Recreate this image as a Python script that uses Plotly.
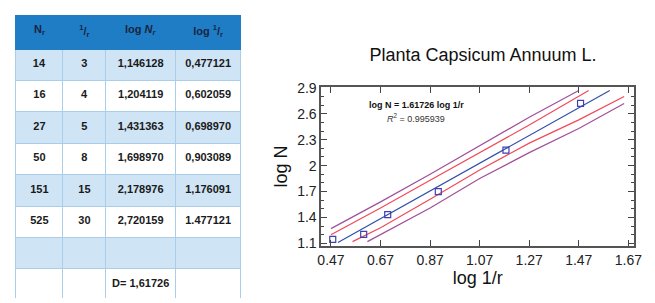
import plotly.graph_objects as go

# ---- table data ----
hdr = ["N<sub>r</sub>", "<sup>1</sup>/<sub>r</sub>", "log <i>N<sub>r</sub></i>", "log <sup>1</sup>/<sub>r</sub>"]
col_nr = ["14", "16", "27", "50", "151", "525", "", ""]
col_inv_r = ["3", "4", "5", "8", "15", "30", "", ""]
col_log_nr = ["1,146128", "1,204119", "1,431363", "1,698970", "2,178976", "2,720159", "", "D=\u00a01,61726"]
col_log_inv_r = ["0,477121", "0,602059", "0,698970", "0,903089", "1,176091", "1.477121", "", ""]

# ---- chart data ----
log_inv_r = [0.477121, 0.602059, 0.698970, 0.903089, 1.176091, 1.477121]
log_n = [1.146128, 1.204119, 1.431363, 1.698970, 2.178976, 2.720159]

fit_x = [0.498, 1.595]
fit_y = [1.11, 2.87]
conf_up_x = [0.47, 0.67, 0.87, 1.07, 1.27, 1.51]
conf_up_y = [1.20, 1.51, 1.83, 2.15, 2.47, 2.87]
conf_lo_x = [0.557, 0.67, 0.87, 1.07, 1.27, 1.47, 1.653]
conf_lo_y = [1.12, 1.28, 1.61, 1.95, 2.26, 2.53, 2.80]
pred_up_x = [0.47, 0.67, 0.87, 1.07, 1.27, 1.47]
pred_up_y = [1.27, 1.58, 1.90, 2.23, 2.56, 2.87]
pred_lo_x = [0.617, 0.87, 1.07, 1.27, 1.47, 1.653]
pred_lo_y = [1.12, 1.51, 1.85, 2.15, 2.43, 2.72]

x_ticks = [0.47, 0.67, 0.87, 1.07, 1.27, 1.47, 1.67]
y_ticks = [1.1, 1.4, 1.7, 2.0, 2.3, 2.6, 2.9]
y_tick_text = ["1.1", "1.4", "1.7", "2", "2.3", "2.6", "2.9"]

# The page body has an 8px margin, so the figure is sized to end at the window edge.
W, H = 647, 295
OFF = 8


def px(v):
    return (v - OFF) / W


def py(v):
    return 1 - (v - OFF) / H


LB = "#cfe4f5"
fills = [[LB, "white", LB, "white", LB, "white", LB, "white"]] * 4
bold = lambda col: [f"<b>{v}</b>" if v else "" for v in col]

fig = go.Figure()
fig.add_trace(go.Table(
    domain=dict(x=[px(12), px(242)], y=[0, 1]),
    columnwidth=[48, 44, 71, 67],
    header=dict(values=[f"<b>{h}</b>" for h in hdr], fill_color="#1f7dc6", align="center",
                font=dict(family="Liberation Sans, Arial", size=11, color="#1a2540"),
                line=dict(color="#1f7dc6", width=1), height=34),
    cells=dict(values=[bold(col_nr), bold(col_inv_r), bold(col_log_nr), bold(col_log_inv_r)],
               fill_color=fills, align="center",
               font=dict(family="Liberation Sans, Arial", size=11, color="#1a1a1a"),
               line=dict(color="#aacde9", width=1), height=31.4),
))

purple = "#a0509a"
red = "#f04a5a"
blue = "#3050a8"
for xs, ys, c in [(pred_up_x, pred_up_y, purple), (conf_up_x, conf_up_y, red),
                  (conf_lo_x, conf_lo_y, red), (pred_lo_x, pred_lo_y, purple)]:
    fig.add_trace(go.Scatter(x=xs, y=ys, mode="lines", line=dict(color=c, width=1.2),
                             showlegend=False, hoverinfo="skip"))
fig.add_trace(go.Scatter(x=fit_x, y=fit_y, mode="lines", line=dict(color=blue, width=1.2),
                         showlegend=False))
fig.add_trace(go.Scatter(x=log_inv_r, y=log_n, mode="markers",
                         marker=dict(symbol="square-open", size=6, color="#4040b0",
                                     line=dict(width=1.2)),
                         showlegend=False))

axis_font = dict(family="Liberation Sans, Arial", size=14, color="#222")
title_font = dict(family="Liberation Sans, Arial", size=18, color="#111")
fig.update_layout(
    width=W, height=H, autosize=False,
    margin=dict(l=0, r=0, t=0, b=0),
    paper_bgcolor="white", plot_bgcolor="white",
    title=dict(text="Planta Capsicum Annuum L.", x=px(483), y=py(55),
               xanchor="center", yanchor="middle", font=title_font),
    xaxis=dict(domain=[px(323), px(642)], range=[0.4304, 1.6938],
               tickvals=x_ticks, ticktext=[f"{v:.2f}" for v in x_ticks],
               ticks="inside", ticklen=6, tickcolor="#444", showline=True,
               linecolor="#555", linewidth=1.5, mirror="allticks", showgrid=False,
               zeroline=False, tickfont=axis_font,
               title=dict(text="log 1/r", font=title_font, standoff=4)),
    yaxis=dict(domain=[py(249), py(83)], range=[1.0667, 2.911],
               tickvals=y_ticks, ticktext=y_tick_text,
               ticks="inside", ticklen=6, tickcolor="#444", showline=True,
               linecolor="#555", linewidth=1.5, mirror="allticks", showgrid=False,
               zeroline=False, tickfont=axis_font,
               minor=dict(dtick=0.1, tick0=1.1, ticks="inside", ticklen=3, tickcolor="#444"),
               title=dict(text="log N", font=title_font, standoff=5)),
    annotations=[
        dict(text="<b>log N = 1.61726 log 1/r</b>", x=px(420), y=py(101.7),
             xref="paper", yref="paper", showarrow=False, xanchor="center", yanchor="middle",
             font=dict(family="Liberation Sans, Arial", size=9, color="#111")),
        dict(text="<i>R</i><sup>2</sup> = 0.995939", x=px(420), y=py(115.7),
             xref="paper", yref="paper", showarrow=False, xanchor="center", yanchor="middle",
             font=dict(family="Liberation Sans, Arial", size=9, color="#333")),
    ],
)

fig.write_html("out.html")
